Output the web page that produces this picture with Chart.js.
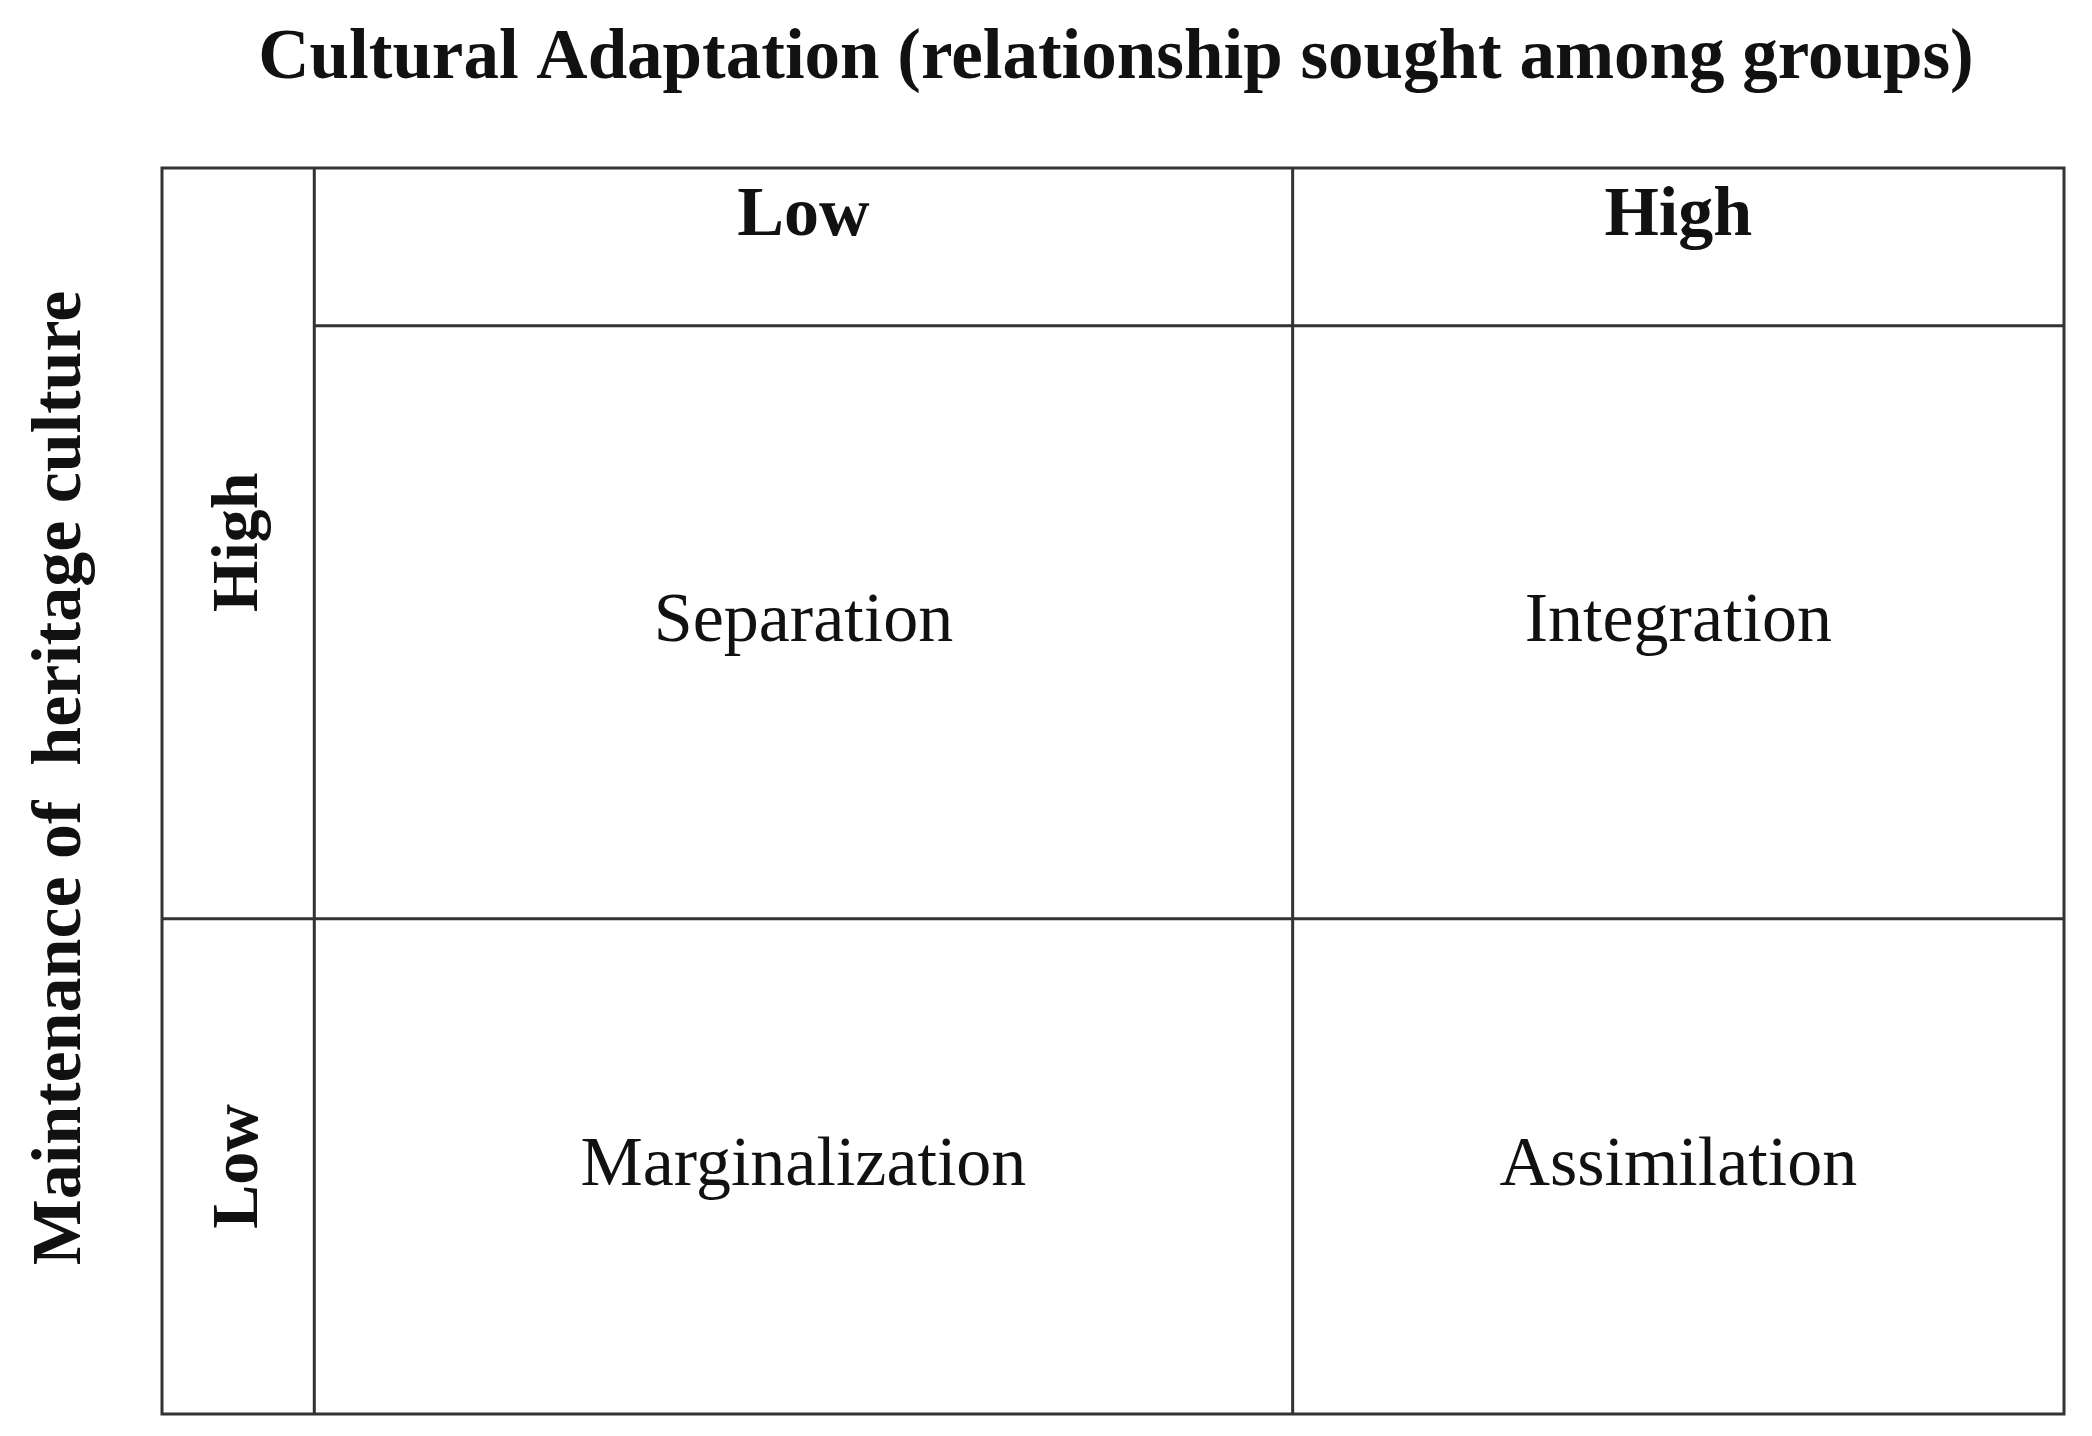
<!DOCTYPE html>
<html>
<head>
<meta charset="utf-8">
<script src="https://cdn.jsdelivr.net/npm/chart.js@4"></script>
<style>
  html, body { margin: 0; padding: 0; background: #fff; }
  #wrap { width: 2092px; height: 1436px; }
</style>
</head>
<body>
<div id="wrap"><canvas id="c" width="2092" height="1436"></canvas></div>
<script>
// table structure (units along each axis)
var colEdges = [0, 153, 1136, 1911];
var rowEdges = [0, 158, 752, 1248];
var colHeaders = ["Low", "High"];
var rowHeaders = ["High", "Low"];
var cellLabels = [["Separation", "Integration"], ["Marginalization", "Assimilation"]];
var title = "Cultural Adaptation (relationship sought among groups)";
var sideTitle = "Maintenance of  heritage culture";

var points = [];
for (var r = 0; r < 2; r++) {
  for (var c = 0; c < 2; c++) {
    points.push({
      x: (colEdges[c + 1] + colEdges[c + 2]) / 2,
      y: (rowEdges[r + 1] + rowEdges[r + 2]) / 2,
      label: cellLabels[r][c]
    });
  }
}

var tablePlugin = {
  id: "table",
  afterDraw: function (chart) {
    var ctx = chart.ctx;
    var xs = chart.scales.x, ys = chart.scales.y;
    var X = function (v) { return xs.getPixelForValue(v); };
    var Y = function (v) { return ys.getPixelForValue(v); };
    ctx.save();
    ctx.strokeStyle = "#333";
    ctx.lineWidth = 3;
    ctx.strokeRect(X(0), Y(0), X(1911) - X(0), Y(1248) - Y(0));
    ctx.beginPath();
    // vertical lines
    ctx.moveTo(X(colEdges[1]), Y(0)); ctx.lineTo(X(colEdges[1]), Y(1248));
    ctx.moveTo(X(colEdges[2]), Y(0)); ctx.lineTo(X(colEdges[2]), Y(1248));
    // horizontal lines
    ctx.moveTo(X(colEdges[1]), Y(rowEdges[1])); ctx.lineTo(X(1911), Y(rowEdges[1]));
    ctx.moveTo(X(0), Y(rowEdges[2])); ctx.lineTo(X(1911), Y(rowEdges[2]));
    ctx.stroke();

    ctx.fillStyle = "#111";
    ctx.textAlign = "center";
    ctx.textBaseline = "middle";
    // column headers
    ctx.font = "bold 70px 'Liberation Serif'";
    colHeaders.forEach(function (h, i) {
      ctx.fillText(h, X((colEdges[i + 1] + colEdges[i + 2]) / 2), Y(rowEdges[1] / 2) - 30);
    });
    // row headers (rotated)
    ctx.font = "bold 66px 'Liberation Serif'";
    rowHeaders.forEach(function (h, i) {
      ctx.save();
      ctx.translate(X(colEdges[1] / 2) + 2, Y((rowEdges[i + 1] + rowEdges[i + 2]) / 2) - (i === 0 ? 80 : 0));
      ctx.rotate(-Math.PI / 2);
      ctx.fillText(h, 0, 0);
      ctx.restore();
    });
    // cell labels
    ctx.font = "70px 'Liberation Serif'";
    points.forEach(function (p) { ctx.fillText(p.label, X(p.x), Y(p.y)); });
    // titles
    ctx.font = "bold 71px 'Liberation Serif'";
    ctx.fillText(title, 1116, 60);
    ctx.save();
    ctx.translate(62, 778);
    ctx.rotate(-Math.PI / 2);
    ctx.font = "bold 70px 'Liberation Serif'";
    ctx.fillText(sideTitle, 0, 0);
    ctx.restore();
    ctx.restore();
  }
};

new Chart(document.getElementById("c"), {
  type: "scatter",
  data: { datasets: [{ data: points, pointRadius: 0 }] },
  options: {
    responsive: false,
    animation: false,
    layout: { padding: { left: 162, right: 28, top: 168, bottom: 22 } },
    plugins: { legend: { display: false }, tooltip: { enabled: false } },
    scales: {
      x: { type: "linear", min: 0, max: 1911, display: false },
      y: { type: "linear", min: 0, max: 1248, reverse: true, display: false }
    }
  },
  plugins: [tablePlugin]
});
</script>
</body>
</html>
